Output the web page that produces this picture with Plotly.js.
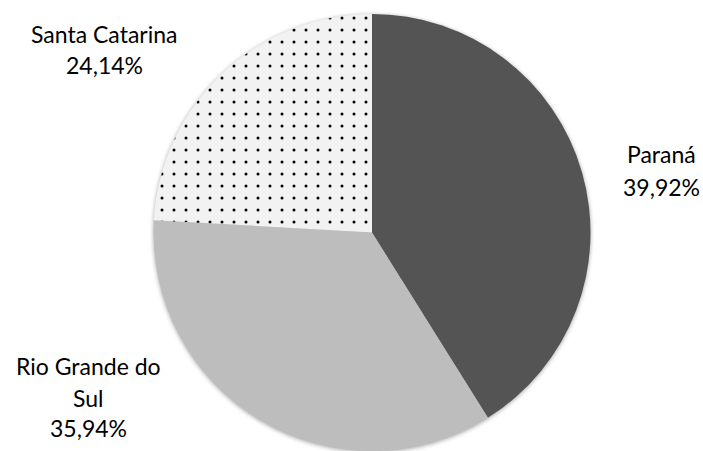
<!DOCTYPE html>
<html>
<head>
<meta charset="utf-8">
<script src="https://cdn.plot.ly/plotly-3.0.1.min.js"></script>
<style>
html,body{margin:0;padding:0;background:#fff;}
#chart{width:703px;height:451px;}
.pielayer{filter:drop-shadow(0px 1px 2px rgba(0,0,0,0.35));}
</style>
</head>
<body>
<div id="chart"></div>
<script>
const states = ["Paraná", "Rio Grande do Sul", "Santa Catarina"];
const labelLines = [["Paraná"], ["Rio Grande do", "Sul"], ["Santa Catarina"]];
const shares = [41.1, 34.8, 24.1];
// percentages as printed on the chart
const shareLabels = ["39,92%", "35,94%", "24,14%"];

const labelAnchors = [
  {x: 661, y: [154, 187]},
  {x: 88, y: [366, 398, 428]},
  {x: 104, y: [34, 65]}
];

const W = 703, H = 451;
const annotations = [];
states.forEach((s, i) => {
  const lines = labelLines[i].concat([shareLabels[i]]);
  lines.forEach((t, j) => {
    annotations.push({
      text: t, xref: 'paper', yref: 'paper',
      x: labelAnchors[i].x / W, y: 1 - labelAnchors[i].y[j] / H,
      xanchor: 'center', yanchor: 'middle', showarrow: false,
      font: {family: 'Lato, "Open Sans", sans-serif', size: 23, color: '#000'}
    });
  });
});

const fills = ['#545454', '#bdbdbd', '#f2f2f2'];
const trace = {
  type: 'pie',
  labels: states,
  values: shares,
  sort: false,
  direction: 'clockwise',
  rotation: 0,
  textinfo: 'none',
  hoverinfo: 'label',
  domain: {x: [153 / W, 591 / W], y: [0, 1 - 14 / H]},
  marker: {
    colors: fills,
    line: {width: 0},
    pattern: {
      shape: ['', '', '.'],
      fgcolor: '#000',
      bgcolor: fills,
      size: 12,
      solidity: 0.05,
      fillmode: 'replace'
    }
  }
};

Plotly.newPlot('chart', [trace], {
  width: W, height: H,
  margin: {l: 0, r: 0, t: 0, b: 0},
  paper_bgcolor: '#fff',
  showlegend: false,
  annotations: annotations
}, {displayModeBar: false, staticPlot: true});
</script>
</body>
</html>
